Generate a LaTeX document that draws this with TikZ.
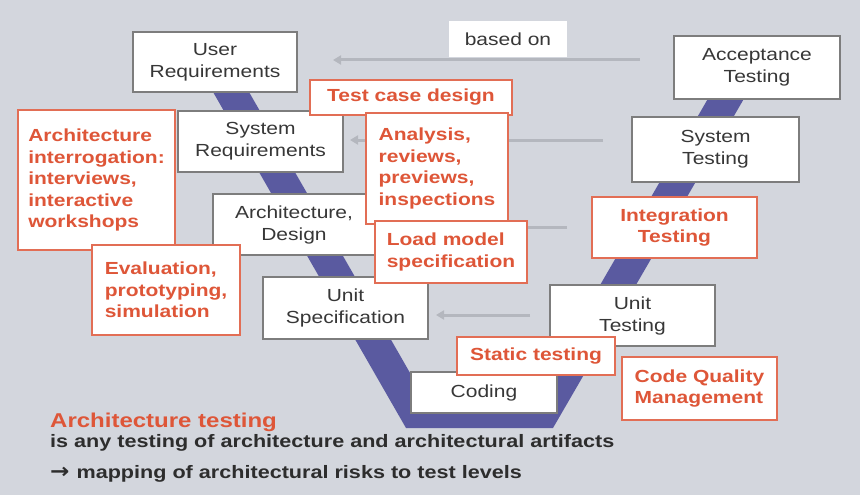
\documentclass[tikz,border=0pt]{standalone}
\usepackage{fontspec}
\setmainfont{Liberation Sans}[FakeStretch=1.2]
\newfontfamily\arrowfont{DejaVu Sans}[FakeStretch=1.1]
\usetikzlibrary{arrows.meta}
\definecolor{bg}{RGB}{211,214,221}
\definecolor{vband}{RGB}{90,90,160}
\definecolor{orng}{RGB}{222,86,56}
\definecolor{oborder}{RGB}{226,110,85}
\definecolor{gborder}{RGB}{125,125,125}
\definecolor{gtext}{RGB}{55,55,55}
\definecolor{arrowc}{RGB}{180,183,190}
\definecolor{dtext}{RGB}{45,45,45}
\begin{document}
\begin{tikzpicture}[x=1pt,y=-1pt,
  gbox/.style={draw=gborder, line width=1.1pt, fill=white, text=gtext, align=center,
    font=\fontsize{17.5}{22}\selectfont, inner sep=0pt},
  obox/.style={draw=oborder, line width=1.3pt, fill=white, text=orng, align=left,
    font=\bfseries\fontsize{17.5}{21.5}\selectfont, inner sep=0pt},
  basedarrow/.style={draw=arrowc, line width=3pt, -{Triangle[length=8pt,width=9pt]}},
  boxsize/.style 2 args={minimum width=#1, minimum height=#2}]
\useasboundingbox (0,0) rectangle (860,495);
\fill[bg] (0,0) rectangle (860,495);

% V-shaped band
\fill[vband] (209,85) -- (245,85) -- (433,413) -- (526,413) -- (713,90) -- (749,90)
  -- (553,428) -- (406,428) -- cycle;

% "based on" arrows
\coordinate (a1s) at (640,60);  \coordinate (a1e) at (333,60);
\coordinate (a2s) at (603,140); \coordinate (a2e) at (350,140);
\coordinate (a3s) at (567,227); \coordinate (a3e) at (380,227);
\coordinate (a4s) at (530,315); \coordinate (a4e) at (436,315);
\draw[basedarrow] (a1s) -- (a1e);
\draw[basedarrow] (a2s) -- (a2e);
\draw[basedarrow] (a3s) -- (a3e);
\draw[basedarrow] (a4s) -- (a4e);

% gray boxes
\node[fill=white, text=gtext, font=\fontsize{17.5}{22}\selectfont, boxsize={118}{36}, inner sep=0pt] (based) at (508,39) {based on};
\node[gbox, boxsize={164}{60}] (ur) at (215,62) {User\\Requirements};
\node[gbox, boxsize={165}{61}] (sr) at (260.5,141.5) {System\\Requirements};
\node[gbox, boxsize={162}{61}] (ad) at (294,224.5) {Architecture,\\Design};
\node[gbox, boxsize={165}{62}] (us) at (345.5,308) {Unit\\Specification};
\node[gbox, boxsize={146}{41}] (cod) at (484,392.5) {Coding};
\node[gbox, boxsize={165}{61}] (ut) at (632.5,315.5) {Unit\\Testing};
\node[gbox, boxsize={167}{65}] (st) at (715.5,149.5) {System\\Testing};
\node[gbox, boxsize={166}{63}] (at) at (757,67.5) {Acceptance\\Testing};

% orange boxes
\node[obox, boxsize={157}{140}] (ai) at (96.5,180) {Architecture\\interrogation:\\interviews,\\interactive\\workshops};
\node[obox, boxsize={202}{35}] (tcd) at (411,97.5) {Test case design};
\node[obox, boxsize={142}{111}] (arp) at (437,168.5) {Analysis,\\reviews,\\previews,\\inspections};
\node[obox, boxsize={152}{62}] (lms) at (451,252) {Load model\\specification};
\node[obox, boxsize={148}{90}] (eps) at (166,290) {Evaluation,\\prototyping,\\simulation};
\node[obox, align=center, boxsize={165}{61}] (it) at (674.5,227.5) {Integration\\Testing};
\node[obox, boxsize={158}{38}] (stt) at (536,356) {Static testing};
\node[obox, boxsize={155}{63}] (cqm) at (699.5,388.5) {Code Quality\\Management};

% bottom text
\node[anchor=base west, inner sep=0pt, text=orng, font=\bfseries\fontsize{20}{24}\selectfont] (title) at (50,427) {Architecture testing};
\node[anchor=base west, inner sep=0pt, text=dtext, font=\bfseries\fontsize{18}{22}\selectfont] (line1) at (50,447) {is any testing of architecture and architectural artifacts};
\node[anchor=base west, inner sep=0pt, text=dtext, font=\bfseries\fontsize{18}{22}\selectfont] (line2) at (50,478) {{\arrowfont\bfseries\fontsize{21}{22}\selectfont →}\hspace{7pt}mapping of architectural risks to test levels};
\end{tikzpicture}
\end{document}
